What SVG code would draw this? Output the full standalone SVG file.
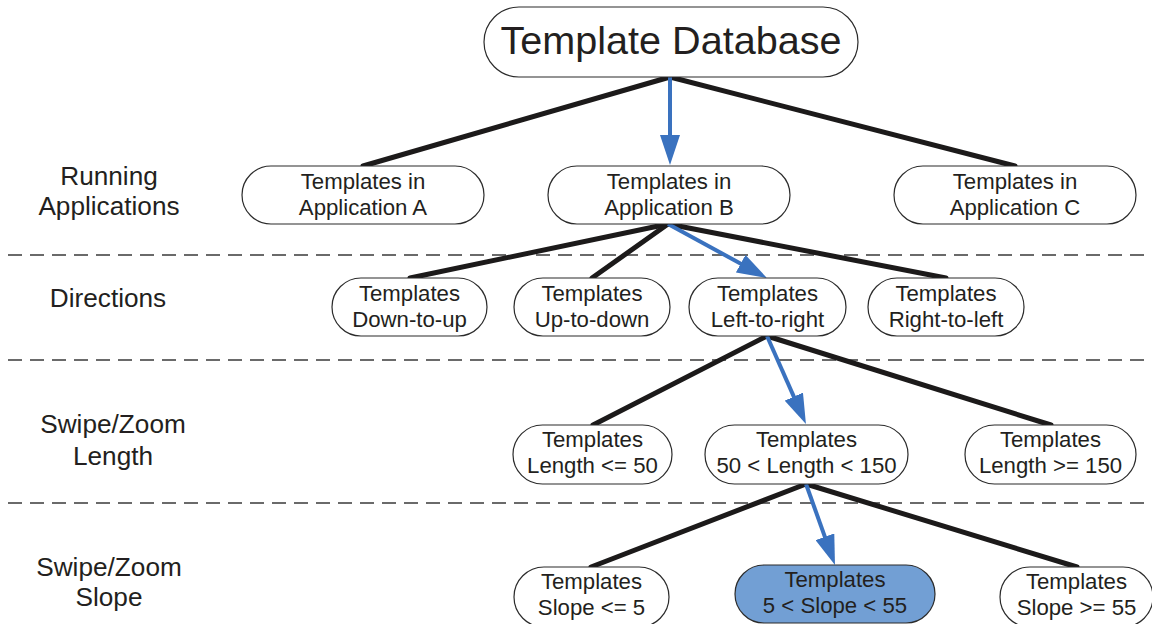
<svg xmlns="http://www.w3.org/2000/svg" width="1152" height="624" viewBox="0 0 1152 624">
  <style>
    .node { fill: #ffffff; stroke: #2b2b2b; stroke-width: 1.2; }
    .node.active { fill: #729fd4; }
    .label { font-family: "Liberation Sans", Arial, sans-serif; font-size: 22.2px; fill: #231f20; text-anchor: middle; }
    .title { font-family: "Liberation Sans", Arial, sans-serif; font-size: 39.6px; fill: #231f20; text-anchor: middle; }
    .level { font-family: "Liberation Sans", Arial, sans-serif; font-size: 26.2px; fill: #231f20; text-anchor: middle; }
    .divider { stroke: #3a3a3a; stroke-width: 1.5; stroke-dasharray: 14 8; fill: none; }
    .edge { stroke: #1c1a1a; stroke-width: 5; stroke-linecap: round; fill: none; }
    .path { stroke: #3a72bf; stroke-width: 4; fill: none; marker-end: url(#head); }
  </style>
  <defs>
    <marker id="head" markerUnits="userSpaceOnUse" viewBox="0 0 30 20" markerWidth="30" markerHeight="20" refX="20" refY="10" orient="auto">
      <path d="M0,0 L30,10 L0,20 z" fill="#3a72bf"/>
    </marker>
  </defs>
  <rect width="1152" height="624" fill="#ffffff"/>

  <!-- level dividers -->
  <g id="dividers">
    <line class="divider" x1="8" y1="255" x2="1152" y2="255"/>
    <line class="divider" x1="8" y1="360" x2="1152" y2="360"/>
    <line class="divider" x1="8" y1="503" x2="1152" y2="503"/>
  </g>

  <!-- level names -->
  <g id="levels">
    <text class="level" x="109" y="185">Running</text>
    <text class="level" x="109" y="215">Applications</text>
    <text class="level" x="108" y="307">Directions</text>
    <text class="level" x="113" y="433">Swipe/Zoom</text>
    <text class="level" x="113" y="465">Length</text>
    <text class="level" x="109" y="576">Swipe/Zoom</text>
    <text class="level" x="109" y="606">Slope</text>
  </g>

  <!-- connectors -->
  <g id="connectors">
    <line class="edge" x1="670" y1="77" x2="363" y2="166"/>
    <line class="edge" x1="670" y1="77" x2="1015" y2="166"/>
    <line class="path" x1="670" y1="77" x2="670" y2="155"/>

    <line class="edge" x1="668" y1="224" x2="410" y2="278"/>
    <line class="edge" x1="668" y1="224" x2="592" y2="278"/>
    <line class="edge" x1="668" y1="224" x2="946" y2="278"/>
    <line class="path" x1="668" y1="224" x2="758.2" y2="273.2"/>

    <line class="edge" x1="767" y1="336" x2="593" y2="425"/>
    <line class="edge" x1="767" y1="336" x2="1051" y2="425"/>
    <line class="path" x1="767" y1="336" x2="801.9" y2="414.9"/>

    <line class="edge" x1="806" y1="484" x2="591" y2="567"/>
    <line class="edge" x1="806" y1="484" x2="1077" y2="567"/>
    <line class="path" x1="806" y1="484" x2="831.6" y2="555.6"/>
  </g>

  <!-- root -->
  <g id="template-database">
    <rect class="node" x="484" y="7" width="374" height="70" rx="35"/>
    <text class="title" x="671" y="54">Template Database</text>
  </g>

  <!-- running applications -->
  <g id="app-a">
    <rect class="node" x="242" y="166" width="242" height="58" rx="29"/>
    <text class="label" x="363" y="189">Templates in</text>
    <text class="label" x="363" y="215">Application A</text>
  </g>
  <g id="app-b">
    <rect class="node" x="548" y="166" width="242" height="58" rx="29"/>
    <text class="label" x="669" y="189">Templates in</text>
    <text class="label" x="669" y="215">Application B</text>
  </g>
  <g id="app-c">
    <rect class="node" x="894" y="166" width="242" height="58" rx="29"/>
    <text class="label" x="1015" y="189">Templates in</text>
    <text class="label" x="1015" y="215">Application C</text>
  </g>

  <!-- directions -->
  <g id="dir-down-up">
    <rect class="node" x="332" y="278" width="155" height="58" rx="29"/>
    <text class="label" x="409.5" y="301">Templates</text>
    <text class="label" x="409.5" y="327">Down-to-up</text>
  </g>
  <g id="dir-up-down">
    <rect class="node" x="514" y="278" width="156" height="58" rx="29"/>
    <text class="label" x="592" y="301">Templates</text>
    <text class="label" x="592" y="327">Up-to-down</text>
  </g>
  <g id="dir-left-right">
    <rect class="node" x="689" y="278" width="157" height="58" rx="29"/>
    <text class="label" x="767.5" y="301">Templates</text>
    <text class="label" x="767.5" y="327">Left-to-right</text>
  </g>
  <g id="dir-right-left">
    <rect class="node" x="868" y="278" width="156" height="58" rx="29"/>
    <text class="label" x="946" y="301">Templates</text>
    <text class="label" x="946" y="327">Right-to-left</text>
  </g>

  <!-- swipe/zoom length -->
  <g id="len-short">
    <rect class="node" x="513" y="425" width="159" height="59" rx="29.5"/>
    <text class="label" x="592.5" y="447">Templates</text>
    <text class="label" x="592.5" y="473">Length &lt;= 50</text>
  </g>
  <g id="len-mid">
    <rect class="node" x="705" y="425" width="203" height="59" rx="29.5"/>
    <text class="label" x="806.5" y="447">Templates</text>
    <text class="label" x="806.5" y="473">50 &lt; Length &lt; 150</text>
  </g>
  <g id="len-long">
    <rect class="node" x="965" y="425" width="171" height="59" rx="29.5"/>
    <text class="label" x="1050.5" y="447">Templates</text>
    <text class="label" x="1050.5" y="473">Length &gt;= 150</text>
  </g>

  <!-- swipe/zoom slope -->
  <g id="slope-low">
    <rect class="node" x="514" y="567" width="155" height="60" rx="30"/>
    <text class="label" x="591.5" y="589">Templates</text>
    <text class="label" x="591.5" y="615">Slope &lt;= 5</text>
  </g>
  <g id="slope-mid">
    <rect class="node active" x="735" y="565" width="200" height="58" rx="29"/>
    <text class="label" x="835" y="587">Templates</text>
    <text class="label" x="835" y="613">5 &lt; Slope &lt; 55</text>
  </g>
  <g id="slope-high">
    <rect class="node" x="1000" y="567" width="153" height="60" rx="30"/>
    <text class="label" x="1076.5" y="589">Templates</text>
    <text class="label" x="1076.5" y="615">Slope &gt;= 55</text>
  </g>
</svg>
